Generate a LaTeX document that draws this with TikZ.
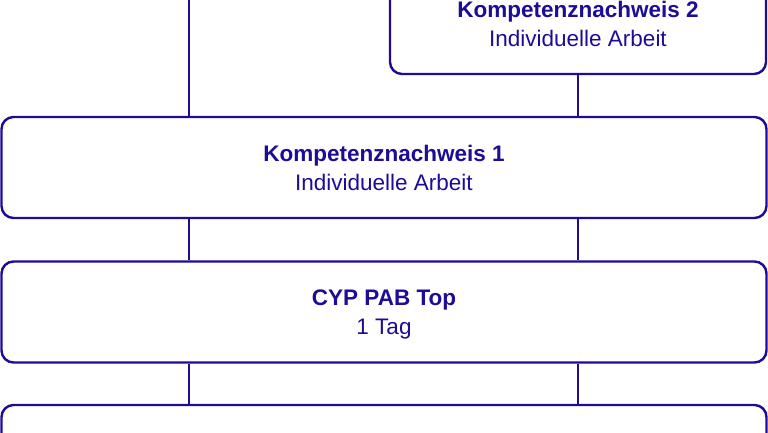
\documentclass[tikz,border=0pt]{standalone}
\usepackage{fontspec}
\setmainfont{Liberation Sans}
\definecolor{kblue}{RGB}{28,12,150}
\begin{document}
\begin{tikzpicture}[x=1pt,y=-1pt,
  box/.style={draw=kblue, line width=2.4pt, rounded corners=12pt, fill=white,
    minimum width=765pt, minimum height=101pt, align=center, text=kblue,
    text depth=0pt, font=\fontsize{22.5}{29}\selectfont},
  link/.style={draw=kblue, line width=2.2pt}]
\useasboundingbox (0,0) rectangle (768,432);
\clip (0,0) rectangle (768,432);
\coordinate (l) at (189,0);
\coordinate (r) at (578,0);
\node[box, minimum width=376pt] (kn2) at (578,23.5) {\textbf{Kompetenznachweis 2}\\Individuelle Arbeit};
\node[box] (kn1) at (384,167.5) {\textbf{Kompetenznachweis 1}\\Individuelle Arbeit};
\node[box] (cyp) at (384,312) {\textbf{CYP PAB Top}\\1 Tag};
\node[box] (next) at (384,455.5) {};
\draw[link] (l) -- (kn1.north -| l);
\draw[link] (kn2.south) -- (kn1.north -| kn2.south);
\draw[link] (kn1.south -| l) -- (cyp.north -| l);
\draw[link] (kn1.south -| r) -- (cyp.north -| r);
\draw[link] (cyp.south -| l) -- (next.north -| l);
\draw[link] (cyp.south -| r) -- (next.north -| r);
\end{tikzpicture}
\end{document}
